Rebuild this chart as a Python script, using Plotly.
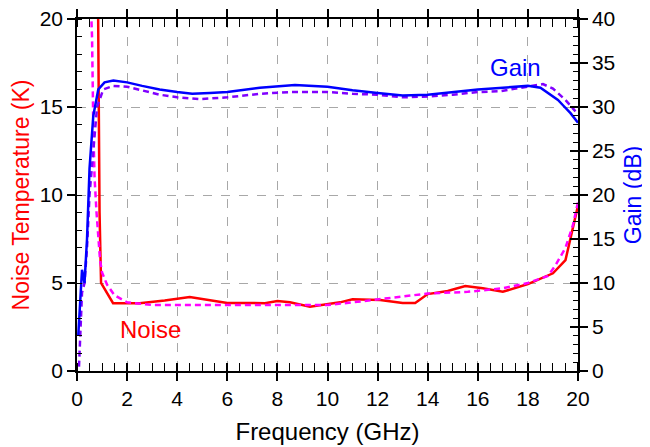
import plotly.graph_objects as go

# ---- data ----
noise_f = [0.84, 0.86, 0.9, 0.96, 1.44, 2.5, 3.5, 4.5, 5.2, 6.0, 7.0, 7.5, 8.0, 8.5, 9.3, 10.0, 10.5, 11.0, 12.1, 13.0, 13.5, 14.0, 14.8, 15.5, 16.2, 17.0, 18.0, 19.0, 19.5, 20.0]
noise_k = [21.0, 15.0, 9.0, 5.0, 3.85, 3.85, 4.0, 4.2, 4.05, 3.86, 3.86, 3.85, 3.97, 3.9, 3.65, 3.8, 3.9, 4.08, 4.03, 3.86, 3.86, 4.37, 4.55, 4.83, 4.7, 4.5, 4.94, 5.55, 6.3, 9.4]

model_noise_f = [0.55, 0.6, 0.65, 0.7, 0.78, 0.84, 0.92, 1.0, 1.2, 1.5, 2.0, 3.0, 4.0, 6.0, 8.0, 10.0, 11.0, 12.5, 13.0, 14.0, 15.6, 17.0, 18.0, 18.8, 19.1, 19.5, 19.8, 20.0]
model_noise_k = [21.0, 19.0, 14.0, 11.0, 9.0, 7.8, 6.3, 5.6, 4.9, 4.3, 3.9, 3.75, 3.75, 3.72, 3.72, 3.75, 3.9, 4.15, 4.25, 4.4, 4.5, 4.7, 5.0, 5.4, 6.0, 7.0, 8.3, 9.6]

gain_f = [0.05, 0.12, 0.2, 0.3, 0.4, 0.5, 0.65, 0.85, 1.1, 1.45, 2.0, 2.6, 3.3, 4.0, 4.6, 5.3, 6.0, 7.3, 8.7, 10.0, 11.0, 12.0, 13.0, 14.0, 15.0, 16.0, 17.0, 18.0, 18.5, 18.9, 19.2, 19.4, 19.7, 20.0]
gain_db = [4.0, 8.0, 11.5, 10.0, 15.0, 23.0, 29.0, 32.0, 32.8, 33.0, 32.8, 32.4, 32.0, 31.7, 31.5, 31.6, 31.7, 32.2, 32.5, 32.3, 31.9, 31.6, 31.3, 31.4, 31.7, 32.0, 32.2, 32.4, 32.2, 31.4, 30.8, 30.2, 29.3, 28.2]

model_gain_f = [0.08, 0.13, 0.2, 0.3, 0.4, 0.5, 0.65, 0.8, 1.05, 1.45, 2.0, 2.6, 3.3, 4.0, 4.9, 6.0, 7.3, 8.5, 10.0, 11.0, 12.0, 13.0, 14.0, 15.0, 16.0, 16.9, 18.0, 18.6, 19.0, 19.5, 19.9]
model_gain_db = [0.5, 5.0, 8.9, 10.0, 14.0, 20.0, 25.0, 30.0, 32.0, 32.4, 32.3, 31.9, 31.4, 31.1, 30.9, 31.1, 31.5, 31.7, 31.7, 31.5, 31.4, 31.1, 31.2, 31.4, 31.7, 31.8, 32.3, 32.6, 32.1, 30.8, 29.5]

FONT = "Liberation Sans, Arial, sans-serif"
GRID = dict(gridcolor="#a8a8a8", griddash="dash", gridwidth=1)

fig = go.Figure()
fig.add_trace(go.Scatter(x=noise_f, y=noise_k, mode="lines", line=dict(color="#ff0000", width=2.5), xaxis="x", yaxis="y"))
fig.add_trace(go.Scatter(x=model_noise_f, y=model_noise_k, mode="lines", line=dict(color="#ff00ff", width=2.5, dash="6px,4px"), xaxis="x", yaxis="y"))
fig.add_trace(go.Scatter(x=model_gain_f, y=model_gain_db, mode="lines", line=dict(color="#8000ff", width=2.5, dash="6px,4px"), xaxis="x", yaxis="y2"))
fig.add_trace(go.Scatter(x=gain_f, y=gain_db, mode="lines", line=dict(color="#0000ff", width=2.5), xaxis="x", yaxis="y2"))
# empty trace to anchor overlay tick axes
fig.add_trace(go.Scatter(x=[], y=[], xaxis="x2", yaxis="y3", showlegend=False))

fig.update_layout(
    width=642, height=439, showlegend=False,
    paper_bgcolor="white", plot_bgcolor="white",
    margin=dict(l=69, r=72, t=11, b=76),
    font=dict(family=FONT, size=21, color="black"),
    xaxis=dict(range=[0, 20], dtick=2, showgrid=True, **GRID, zeroline=False, automargin=False,
               showline=True, linecolor="black", linewidth=1.5, mirror="allticks",
               ticks="outside", ticklen=8, tickwidth=1.5, tickcolor="black", ticklabeloverflow="allow",
               minor=dict(dtick=0.5, ticks="inside", ticklen=5, tickwidth=1.2, tickcolor="black", showgrid=False),
               title=dict(text="Frequency (GHz)", font=dict(size=24), standoff=14),
               tickfont=dict(size=21)),
    xaxis2=dict(range=[0, 20], dtick=2, overlaying="x", anchor="y", side="bottom", automargin=False,
                showgrid=False, zeroline=False, showticklabels=False, showline=False,
                ticks="inside", ticklen=8, tickwidth=1.5, tickcolor="black", mirror="ticks"),
    yaxis=dict(range=[0, 20], dtick=5, showgrid=True, **GRID, zeroline=False, automargin=False,
               showline=True, linecolor="black", linewidth=1.5,
               ticks="outside", ticklen=8, tickwidth=1.5, tickcolor="black", ticklabeloverflow="allow",
               minor=dict(dtick=1, ticks="inside", ticklen=5, tickwidth=1.2, tickcolor="black", showgrid=False),
               title=dict(text="Noise Temperature (K)", font=dict(size=23, color="#ff0000"), standoff=11),
               tickfont=dict(size=21)),
    yaxis2=dict(range=[0, 40], dtick=5, overlaying="y", side="right", anchor="x", automargin=False,
                showgrid=False, zeroline=False, showline=True, linecolor="black", linewidth=1.5,
                ticks="outside", ticklen=8, tickwidth=1.5, tickcolor="black", ticklabeloverflow="allow",
                minor=dict(dtick=1, ticks="inside", ticklen=5, tickwidth=1.2, tickcolor="black", showgrid=False),
                title=dict(text="Gain (dB)", font=dict(size=23, color="#0000ff"), standoff=11),
                tickfont=dict(size=21)),
    yaxis3=dict(range=[0, 40], dtick=5, overlaying="y", side="right", anchor="x2", automargin=False,
                showgrid=False, zeroline=False, showticklabels=False, showline=False,
                ticks="inside", ticklen=8, tickwidth=1.5, tickcolor="black"),
    annotations=[
        dict(text="Noise", x=2.95, y=2.35, xref="x", yref="y", showarrow=False,
             font=dict(size=24, color="#ff0000", family=FONT)),
        dict(text="Gain", x=17.5, y=17.25, xref="x", yref="y", showarrow=False,
             font=dict(size=24, color="#0000ff", family=FONT)),
    ],
)

fig.write_html("out.html")
